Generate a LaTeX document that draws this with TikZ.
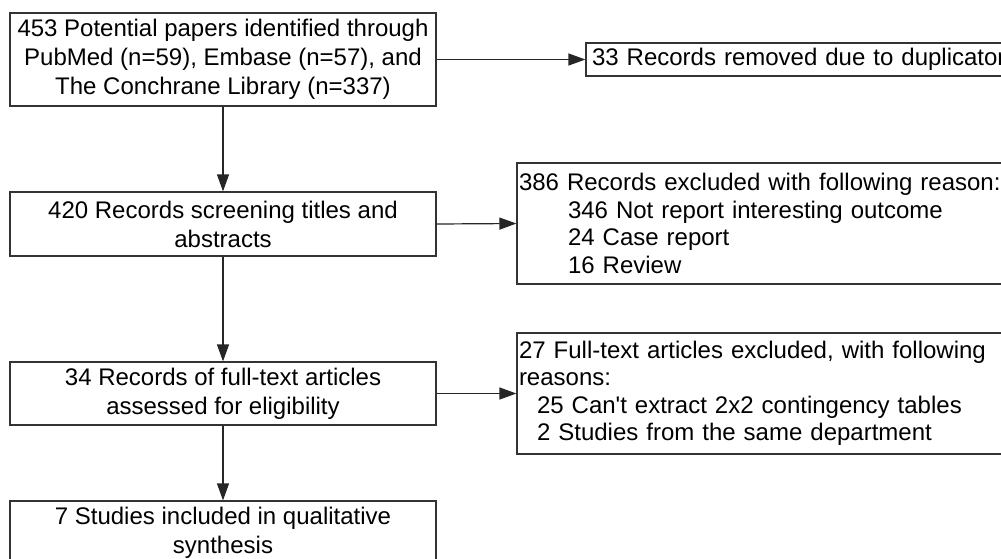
\documentclass[tikz,border=0pt]{standalone}
\usepackage{fontspec}
\setmainfont{Liberation Sans}
\font\lsans="Liberation Sans" at 24pt
\usetikzlibrary{arrows.meta}
\begin{document}
\begin{tikzpicture}[x=1pt,y=-1pt,
  box/.style={draw=black!80, line width=1.2pt, rectangle, inner sep=0pt},
  cbox/.style={box, align=center, minimum width=426pt, font=\fontsize{24}{29}\selectfont\lsans},
  lbox/.style={box, align=left, inner xsep=2pt, minimum width=523pt, text width=519pt, font=\fontsize{24}{27.5}\selectfont\lsans},
  arr/.style={line width=1.2pt, draw=black!85, -{Triangle[length=17pt,width=12pt]}}]
\useasboundingbox (0,0) rectangle (1001,558);
\clip (0,0) rectangle (1001,558);
\node[cbox, minimum height=93pt] (a) at (223,59.5) {453 Potential papers identified through\\PubMed (n=59), Embase (n=57), and\\The Conchrane Library (n=337)};
\node[box, align=left, inner xsep=6pt, minimum width=454pt, text width=442pt, minimum height=33pt, font=\fontsize{24}{28}\selectfont\lsans] (dup) at (813,59.5) {33 Records removed due to duplicaton};
\node[cbox, minimum height=64pt] (b) at (223,224) {420 Records screening titles and\\abstracts};
\node[lbox, minimum height=121pt] (ex1) at (778.5,223.5) {386 Records excluded with following reason:\\\hspace*{49pt}346 Not report interesting outcome\\\hspace*{49pt}24 Case report\\\hspace*{49pt}16 Review};
\node[cbox, minimum height=63pt] (c) at (223,393.5) {34 Records of full-text articles\\assessed for eligibility};
\node[lbox, minimum height=121pt] (ex2) at (778.5,393.5) {27 Full-text articles excluded, with following\\reasons:\\\hspace*{18pt}25 Can't extract 2x2 contingency tables\\\hspace*{18pt}2 Studies from the same department};
\node[cbox, minimum height=64pt] (d) at (223,533) {7 Studies included in qualitative\\synthesis};
\draw[arr] (a.east) -- (dup.west);
\draw[arr] (a.south) -- (b.north);
\draw[arr] (b.east) -- (ex1.west);
\draw[arr] (b.south) -- (c.north);
\draw[arr] (c.east) -- (ex2.west);
\draw[arr] (c.south) -- (d.north);
\end{tikzpicture}
\end{document}
